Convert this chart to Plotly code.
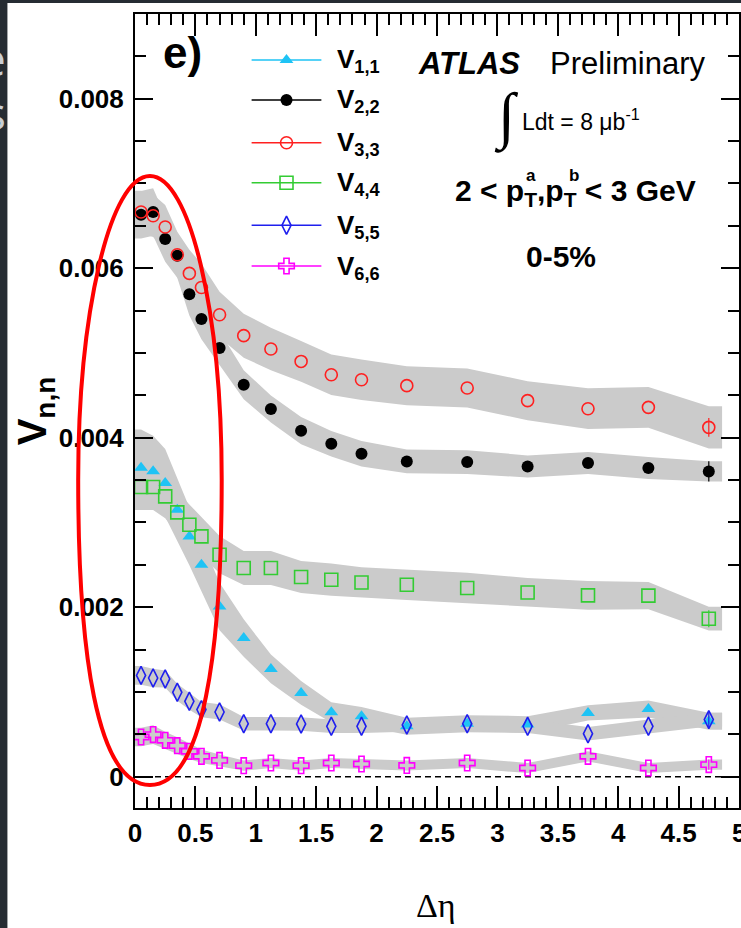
import plotly.graph_objects as go

# ---------------- data ----------------
ETA = [0.05, 0.15, 0.25, 0.35, 0.45, 0.55, 0.7, 0.9, 1.125, 1.375,
       1.625, 1.875, 2.25, 2.75, 3.25, 3.75, 4.25, 4.75]

V11 = [0.003646, 0.003603, 0.003466, 0.003150, 0.002835, 0.002501, 0.002009, 0.001636, 0.001271,
       0.000988, 0.000759, 0.000712, 0.000594, 0.000625, 0.000614, 0.000752, 0.000799, 0.000653]
V22 = [0.006631, 0.006663, 0.006345, 0.006147, 0.005693, 0.005401, 0.005058, 0.004625, 0.004339,
       0.004083, 0.003929, 0.003811, 0.003720, 0.003713, 0.003661, 0.003701, 0.003642, 0.003602]
V33 = [0.006663, 0.006619, 0.006486, 0.006159, 0.005939, 0.005772, 0.005451, 0.005204, 0.005047,
       0.004900, 0.004743, 0.004684, 0.004614, 0.004586, 0.004437, 0.004342, 0.004358, 0.004122]
V44 = [0.003418, 0.003418, 0.003308, 0.003119, 0.002973, 0.002835, 0.002619, 0.002462, 0.002462,
       0.002356, 0.002324, 0.002292, 0.002265, 0.002226, 0.002174, 0.002139, 0.002136, 0.001864]
V55 = [0.001195, 0.001164, 0.001153, 0.000995, 0.000889, 0.000791, 0.000763, 0.000625, 0.000625,
       0.000622, 0.000594, 0.000594, 0.000610, 0.000625, 0.000594, 0.000507, 0.000594, 0.000673]
V66 = [0.000468, 0.000496, 0.000429, 0.000366, 0.000299, 0.000240, 0.000192, 0.000130, 0.000161,
       0.000130, 0.000161, 0.000149, 0.000132, 0.000161, 0.000102, 0.000240, 0.000102, 0.000142]

# systematic (grey band) half widths
S11 = [0.00045, 0.00042, 0.00040, 0.00037, 0.00034, 0.00030, 0.00028, 0.00022, 0.00017,
       0.00014, 0.00012, 0.00011, 0.00010, 0.00010, 0.00010, 0.00009, 0.00010, 0.00010]
S22 = [0.00028, 0.00028, 0.00027, 0.00026, 0.00025, 0.00024, 0.00020, 0.00017, 0.00016,
       0.00016, 0.00015, 0.00015, 0.00014, 0.00014, 0.00013, 0.00013, 0.00013, 0.00012]
S33 = [0.00025, 0.00025, 0.00026, 0.00027, 0.00028, 0.00028, 0.00027, 0.00026, 0.00025,
       0.00024, 0.00024, 0.00024, 0.00023, 0.00023, 0.00023, 0.00024, 0.00024, 0.00025]
S44 = [0.00027, 0.00027, 0.00026, 0.00025, 0.00024, 0.00023, 0.00022, 0.00020, 0.00020,
       0.00019, 0.00019, 0.00018, 0.00018, 0.00018, 0.00017, 0.00017, 0.00016, 0.00014]
S55 = [0.00011, 0.00011, 0.00010, 0.00010, 0.00010, 0.00009, 0.00009, 0.00008, 0.00008,
       0.00008, 0.00008, 0.00008, 0.00008, 0.00008, 0.00008, 0.00008, 0.00008, 0.00008]
S66 = [0.00011, 0.00011, 0.00010, 0.00010, 0.00009, 0.00008, 0.00007, 0.00006, 0.00006,
       0.00006, 0.00006, 0.00006, 0.00006, 0.00006, 0.00006, 0.00006, 0.00006, 0.00006]

# statistical errors (only visible at the last point)
E11 = [0] * 17 + [0.00005]
E22 = [0] * 17 + [0.00012]
E33 = [0] * 17 + [0.00011]
E44 = [0] * 17 + [0.00010]
E55 = [0] * 17 + [0.00009]
E66 = [0] * 17 + [0.00006]

LABELS = ["1,1", "2,2", "3,3", "4,4", "5,5", "6,6"]
Y_TICKS = [0, 0.002, 0.004, 0.006, 0.008]
Y_TICKTEXT = ["0", "0.002", "0.004", "0.006", "0.008"]

# ---------------- styling ----------------
W, H = 741, 928
L, R, T, B = 135, 0, 14, 120
PW, PH = W - L - R, H - T - B
BAND_EDGES = (0.0, 4.86)
BAND_COLOR = "#cbcbcb"
SANS = "Liberation Sans, Arial, sans-serif"
SERIF = "Liberation Serif, Times New Roman, serif"

series = [
    (V11, S11, E11, "#1ec3f5", "triangle-up", 12, 0),
    (V22, S22, E22, "#000000", "circle", 12, 0),
    (V33, S33, E33, "#ff2020", "circle-open", 12, 1.6),
    (V44, S44, E44, "#33cc33", "square-open", 13, 1.6),
    (V55, S55, E55, "#1f1fee", "diamond-tall-open", 13, 1.6),
    (V66, S66, E66, "#ff00ff", "cross-open", 13, 1.6),
]


def px(x):
    return (x - L) / PW


def py(y):
    return (H - B - y) / PH


fig = go.Figure()

# grey systematic bands
for vals, sys, _, _, _, _, _ in series:
    bx = [BAND_EDGES[0]] + ETA + [BAND_EDGES[1]]
    up = [vals[0] + sys[0]] + [v + s for v, s in zip(vals, sys)] + [vals[-1] + sys[-1]]
    lo = [vals[0] - sys[0]] + [v - s for v, s in zip(vals, sys)] + [vals[-1] - sys[-1]]
    fig.add_trace(go.Scatter(x=bx + bx[::-1], y=up + lo[::-1], fill="toself",
                             fillcolor=BAND_COLOR, line=dict(width=0),
                             mode="lines", hoverinfo="skip", showlegend=False))

# data points
for vals, sys, err, col, sym, size, lw in series:
    fig.add_trace(go.Scatter(
        x=ETA, y=vals, mode="markers",
        marker=dict(symbol=sym, size=size, color=col, line=dict(color=col, width=lw)),
        error_y=dict(type="data", array=err, visible=True, color=col, thickness=1.2, width=0),
        showlegend=False))

# hand-made legend on a pixel overlay axis
LEG_Y = [60, 100, 142.7, 182.7, 225.3, 266]
LEG_X0, LEG_X1, LEG_XM = 252, 322, 287
for (vals, sys, err, col, sym, size, lw), ly, lab in zip(series, LEG_Y, LABELS):
    fig.add_trace(go.Scatter(x=[LEG_X0, LEG_X1], y=[ly, ly], mode="lines",
                             line=dict(color=col, width=1.5), xaxis="x2", yaxis="y2",
                             showlegend=False, hoverinfo="skip"))
    fig.add_trace(go.Scatter(x=[LEG_XM], y=[ly], mode="markers",
                             marker=dict(symbol=sym, size=size, color=col,
                                         line=dict(color=col, width=lw)),
                             xaxis="x2", yaxis="y2", showlegend=False, hoverinfo="skip"))

annotations = []


def ann(text, x, y, size, family=SANS, color="black", xanchor="left", yanchor="middle", angle=0):
    annotations.append(dict(text=text, x=px(x), y=py(y), xref="paper", yref="paper",
                            xanchor=xanchor, yanchor=yanchor, showarrow=False,
                            textangle=angle, font=dict(family=family, size=size, color=color)))


for ly, lab in zip(LEG_Y, LABELS):
    ann("<b>V<sub>%s</sub></b>" % lab, 336, ly + 1, 26)

ann("<b>e)</b>", 161, 53, 44)
ann("<b><i>ATLAS</i></b>", 417, 63, 31)
ann("Preliminary", 549, 63, 31)
ann("\u222b", 508, 117, 62, family=SERIF, xanchor="center")
ann("Ldt = 8 \u03bcb<sup>-1</sup>", 521, 120, 23)
ann("<b>2 &lt; p<sub>T</sub>,p<sub>T</sub> &lt; 3 GeV</b>", 454, 192, 30)
ann("<b>a</b>", 532, 175, 17, xanchor="center")
ann("<b>b</b>", 575, 175, 17, xanchor="center")
ann("<b>0-5%</b>", 562, 256, 30, xanchor="center")
ann("<b>V<sub>n,n</sub></b>", 35, 411, 40, xanchor="center", angle=-90)
ann("\u0394\u03b7", 437, 905, 34, family=SERIF, xanchor="center")
ann("<b>5</b>", 741, 833, 26, xanchor="center")
# cut-off slide text at the far left
ann("e", 8, 58, 46, family="Open Sans", color="#c9ced4", xanchor="right")
ann("s", 8, 112, 46, family="Open Sans", color="#c9ced4", xanchor="right")

# red hand-drawn ellipse (pixel points -> paper)
pts = [(150, 176), (190, 176), (222, 312), (222, 480), (222, 650), (204, 785), (150, 785),
       (96, 785), (78, 650), (78, 480), (78, 312), (110, 176), (150, 176)]
P = ["%.5f,%.5f" % (px(x), py(y)) for x, y in pts]
path = "M" + P[0] + " C" + P[1] + " " + P[2] + " " + P[3] + " C" + P[4] + " " + P[5] + " " + P[6] \
       + " C" + P[7] + " " + P[8] + " " + P[9] + " C" + P[10] + " " + P[11] + " " + P[12] + " Z"

shapes = [
    dict(type="line", xref="x", yref="y", x0=0, x1=5, y0=0, y1=0,
         line=dict(color="black", width=1.5, dash="6px,4px"), layer="below"),
    dict(type="path", xref="paper", yref="paper", path=path,
         line=dict(color="#ff0000", width=4), fillcolor="rgba(0,0,0,0)", layer="above"),
    dict(type="rect", xref="paper", yref="paper", x0=px(-5), x1=px(7), y0=py(H + 5), y1=py(-5),
         line=dict(width=0), fillcolor="#262c33", layer="below"),
    dict(type="rect", xref="paper", yref="paper", x0=px(-5), x1=px(W + 5), y0=py(3), y1=py(-5),
         line=dict(width=0), fillcolor="#262c33", layer="below"),
]

axis_common = dict(showline=True, linecolor="black", linewidth=2, mirror="ticks",
                   ticks="inside", tickcolor="black", tickwidth=1.5,
                   showgrid=False, zeroline=False,
                   tickfont=dict(family=SANS, size=26, color="black", weight="bold"))

fig.update_layout(
    width=W, height=H, margin=dict(l=L, r=R, t=T, b=B, pad=0),
    paper_bgcolor="white", plot_bgcolor="white", showlegend=False,
    xaxis=dict(range=[0, 5], tick0=0, dtick=0.5, ticklen=22,
               minor=dict(dtick=0.1, ticklen=11, ticks="inside", tickcolor="black", tickwidth=1.5),
               ticklabelstandoff=1, **axis_common),
    yaxis=dict(range=[-0.00037, 0.009], tickvals=Y_TICKS, ticktext=Y_TICKTEXT, ticklen=18,
               minor=dict(dtick=0.0005, tick0=0, ticklen=11, ticks="inside", tickcolor="black",
                          tickwidth=1.5),
               ticklabelstandoff=4, **axis_common),
    xaxis2=dict(overlaying="x", range=[L, W - R], visible=False, fixedrange=True),
    yaxis2=dict(overlaying="y", range=[H - B, T], visible=False, fixedrange=True),
    annotations=annotations, shapes=shapes,
)

fig.write_html("out.html")
